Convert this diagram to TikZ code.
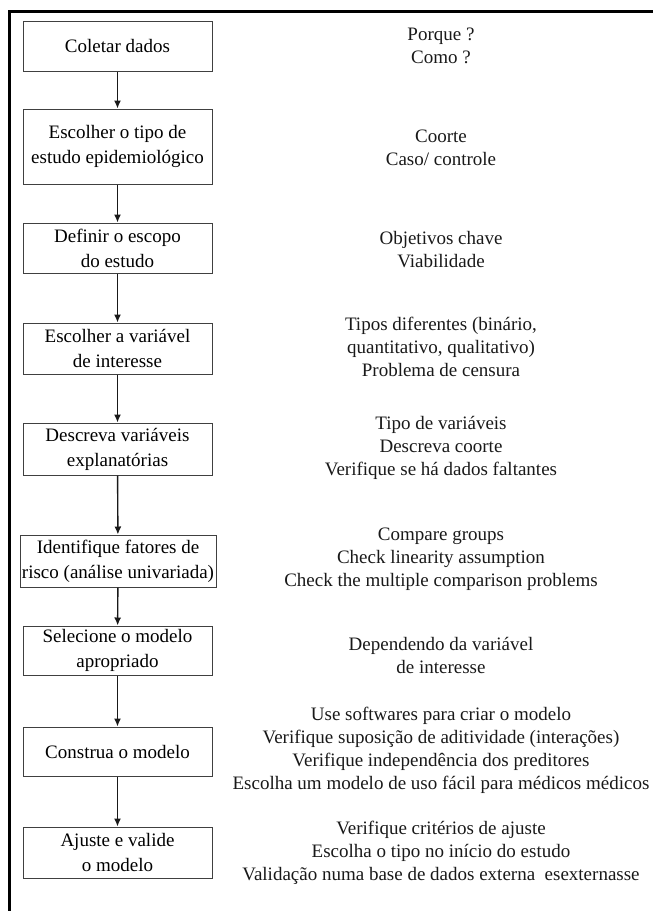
\documentclass[tikz,border=0pt]{standalone}
\usepackage{fontspec}
\setmainfont{Liberation Serif}
\usetikzlibrary{arrows.meta}
\begin{document}
\begin{tikzpicture}[x=1pt,y=-1pt,
  stepbox/.style={draw=black!75, line width=1pt, minimum width=189pt, align=center, inner sep=0pt, font=\fontsize{19}{25}\selectfont},
  note/.style={align=center, inner sep=0pt, font=\fontsize{19}{23}\selectfont, text=black!90},
  flow/.style={draw=black!90, line width=1.4pt, -{Latex[length=8pt,width=7pt]}}]
\useasboundingbox (0,0) rectangle (653,911);
\draw[line width=3pt] (9.5,912) -- (9.5,11) -- (654,11);

\node[stepbox, minimum height=50pt] (b1) at (117.5,46) {Coletar dados};
\node[stepbox, minimum height=75pt] (b2) at (117.5,146.5) {Escolher o tipo de\\estudo epidemiológico};
\node[stepbox, minimum height=50pt] (b3) at (117.5,248) {Definir o escopo\\do estudo};
\node[stepbox, minimum height=51pt] (b4) at (117.5,348.5) {Escolher a variável\\de interesse};
\node[stepbox, minimum height=52pt] (b5) at (117.5,449) {Descreva variáveis\\explanatórias};
\node[stepbox, minimum height=52pt, minimum width=196pt] (b6) at (118,561) {Identifique fatores de\\risco (análise univariada)};
\node[stepbox, minimum height=49pt] (b7) at (117.5,650.5) {Selecione o modelo\\apropriado};
\node[stepbox, minimum height=49pt] (b8) at (117.5,751.5) {Construa o modelo};
\node[stepbox, minimum height=51pt] (b9) at (117.5,852.5) {Ajuste e valide\\o modelo};

\draw[flow] (b1) -- (b2);
\draw[flow] (b2) -- (b3);
\draw[flow] (b3) -- (b4);
\draw[flow] (b4) -- (b5);
\draw[flow] (b5) -- (b6);
\draw[flow] (b6) -- (b7);
\draw[flow] (b7) -- (b8);
\draw[flow] (b8) -- (b9);

\node[note] (n1) at (441,46) {Porque ?\\Como ?};
\node[note] (n2) at (441,148) {Coorte\\Caso/ controle};
\node[note] (n3) at (441,250) {Objetivos chave\\Viabilidade};
\node[note] (n4) at (441,347) {Tipos diferentes (binário,\\quantitativo, qualitativo)\\Problema de censura};
\node[note] (n5) at (441,448) {Tipo de variáveis\\Descreva coorte\\Verifique se há dados faltantes};
\node[note] (n6) at (441,559) {Compare groups\\Check linearity assumption\\Check the multiple comparison problems};
\node[note] (n7) at (441,655) {Dependendo da variável\\de interesse};
\node[note] (n8) at (441,750) {Use softwares para criar o modelo\\Verifique suposição de aditividade (interações)\\Verifique independência dos preditores\\Escolha um modelo de uso fácil para médicos médicos};
\node[note] (n9) at (441,853) {Verifique critérios de ajuste\\Escolha o tipo no início do estudo\\Validação numa base de dados externa\ \ esexternasse};
\end{tikzpicture}
\end{document}
